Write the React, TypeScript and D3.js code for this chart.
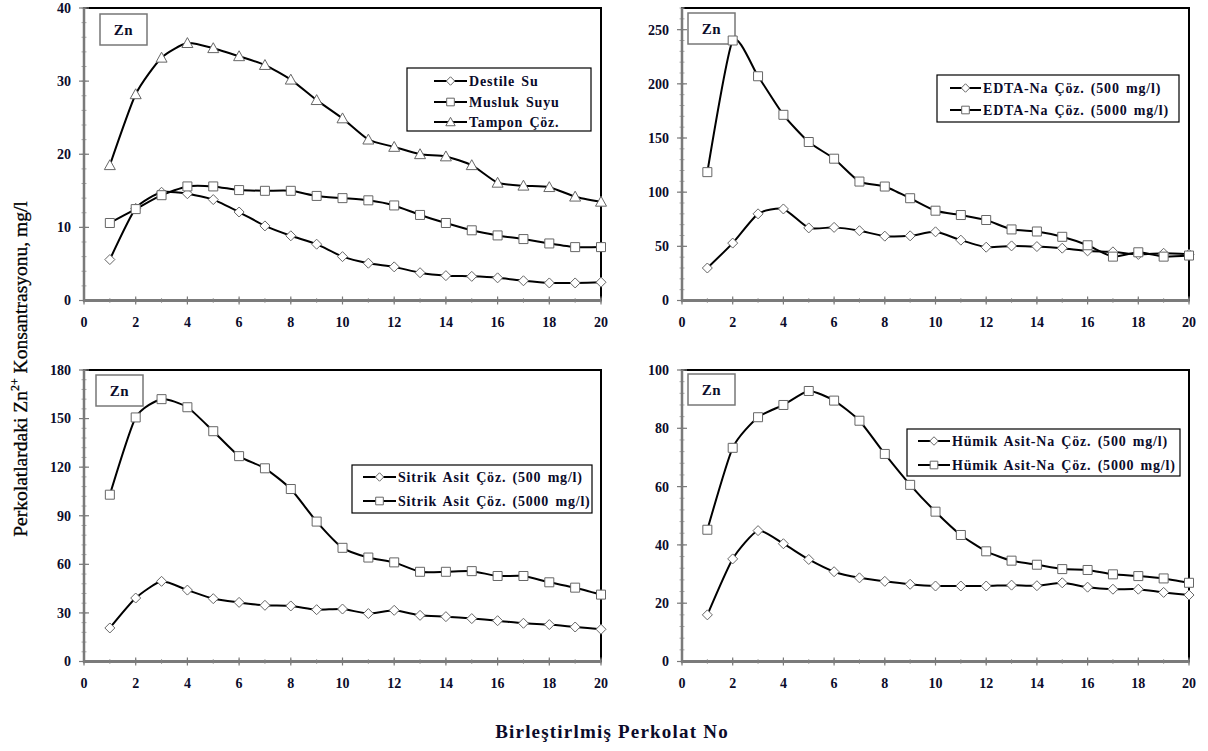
import React from "react";
import * as d3 from "d3";

// perkolat numbers (x axis)
const perkolatNo = [1, 2, 3, 4, 5, 6, 7, 8, 9, 10, 11, 12, 13, 14, 15, 16, 17, 18, 19, 20];

// panel 1: water / buffer
const destileSu = [5.6, 12.6, 14.8, 14.6, 13.8, 12.1, 10.2, 8.85, 7.7, 6.0, 5.1, 4.6, 3.8, 3.4, 3.3, 3.1, 2.7, 2.4, 2.4, 2.5];
const muslukSuyu = [10.6, 12.5, 14.4, 15.6, 15.6, 15.1, 15.0, 15.0, 14.3, 14.0, 13.7, 13.0, 11.7, 10.6, 9.6, 8.9, 8.4, 7.8, 7.3, 7.3];
const tamponCoz = [18.5, 28.2, 33.2, 35.2, 34.5, 33.4, 32.2, 30.2, 27.4, 24.9, 22.0, 21.0, 20.0, 19.7, 18.5, 16.1, 15.7, 15.5, 14.2, 13.5];

// panel 2: EDTA-Na
const edta500 = [30, 53, 80, 84.5, 67, 67.5, 64.4, 59.4, 59.7, 63.4, 55.7, 49.2, 50.4, 49.8, 48.3, 45.8, 44.9, 42.5, 43.6, 42.7];
const edta5000 = [118.5, 240, 207, 171.4, 146.3, 130.9, 109.8, 105.2, 94.4, 82.9, 78.9, 74.3, 65.6, 63.7, 58.8, 51, 40.5, 44.5, 40.5, 41.5];

// panel 3: Sitrik asit
const sitrik500 = [20.7, 39.2, 49.5, 44.1, 38.8, 36.5, 34.7, 34.3, 32.0, 32.4, 29.6, 31.6, 28.5, 27.7, 26.5, 25.2, 23.6, 22.8, 21.3, 19.9];
const sitrik5000 = [103, 150.7, 162, 157, 142.2, 126.8, 119.3, 106.5, 86.4, 70.2, 64.2, 61.2, 55.4, 55.4, 55.8, 52.8, 52.8, 48.9, 45.6, 41.3];

// panel 4: Humik asit-Na
const humik500 = [16.0, 35.2, 44.9, 40.4, 35.0, 30.8, 28.7, 27.5, 26.5, 25.9, 25.9, 25.9, 26.2, 26.0, 27.0, 25.5, 24.8, 24.8, 23.7, 22.8];
const humik5000 = [45.2, 73.3, 83.8, 88.0, 92.8, 89.5, 82.6, 71.2, 60.6, 51.4, 43.4, 37.8, 34.6, 33.2, 31.7, 31.4, 29.9, 29.3, 28.5, 27.0];

const xTicks = [0, 2, 4, 6, 8, 10, 12, 14, 16, 18, 20];

const FONT = '"Liberation Serif", "Times New Roman", serif';
const INK = "#0b0b2a";
const AXIS = "#7a7a7a";

type Marker = "diamond" | "square" | "triangle";
type Series = { name: string; values: number[]; marker: Marker };

function markerPath(kind: Marker, k = 1) {
  if (kind === "diamond") {
    const r = 5 * k;
    return `M0,${-r}L${r},0L0,${r}L${-r},0Z`;
  }
  if (kind === "square") {
    const r = 4.5 * k;
    return `M${-r},${-r}H${r}V${r}H${-r}Z`;
  }
  const r = 5.5 * k;
  return `M0,${-r}L${r},${r * 0.8}L${-r},${r * 0.8}Z`;
}

type PanelProps = {
  left: number;
  right: number;
  top: number;
  bottom: number;
  yMax: number;
  yStep: number;
  series: Series[];
  legend: { x: number; y: number; w: number; h: number; rows: number[]; lx0: number; lx1: number; tx: number };
  zn: { x: number; y: number; w: number; h: number };
};

function Panel({ left, right, top, bottom, yMax, yStep, series, legend, zn }: PanelProps) {
  const x = d3.scaleLinear().domain([0, 20]).range([left, right]);
  const y = d3.scaleLinear().domain([0, yMax]).range([bottom, top]);
  const line = d3
    .line<number>()
    .x((_, i) => x(perkolatNo[i]))
    .y((d) => y(d))
    .curve(d3.curveCardinal.tension(0.4));

  const yMajor = d3.range(0, yMax + 0.001, yStep).filter((v) => v <= yMax);
  const yMinor = d3.range(0, yMax + 0.001, yStep / 5);
  const xMinor = d3.range(0, 21, 1);

  return (
    <g>
      <rect x={left} y={top} width={right - left} height={bottom - top} fill="#fff" stroke="#000" strokeWidth={2} />
      {/* minor ticks */}
      {yMinor.map((v) => (
        <line key={"ym" + v} x1={left - 2.5} x2={left + 2.5} y1={y(v)} y2={y(v)} stroke="#aaa" strokeWidth={1} />
      ))}
      {xMinor.map((v) => (
        <line key={"xm" + v} x1={x(v)} x2={x(v)} y1={bottom - 2.5} y2={bottom + 2.5} stroke="#aaa" strokeWidth={1} />
      ))}
      {yMajor.map((v) => (
        <line key={"yM" + v} x1={left - 5} x2={left + 5} y1={y(v)} y2={y(v)} stroke={AXIS} strokeWidth={1.2} />
      ))}
      {xTicks.map((v) => (
        <line key={"xM" + v} x1={x(v)} x2={x(v)} y1={bottom - 4} y2={bottom + 4} stroke={AXIS} strokeWidth={1.2} />
      ))}
      {/* axes */}
      <line x1={left} x2={left} y1={top} y2={bottom + 1} stroke={AXIS} strokeWidth={2.5} />
      <line x1={left - 1} x2={right} y1={bottom} y2={bottom} stroke={AXIS} strokeWidth={2.5} />

      {yMajor.map((v) => (
        <text
          key={"yl" + v}
          x={left - 13}
          y={y(v)}
          dy="0.35em"
          textAnchor="end"
          fontFamily={FONT}
          fontWeight="bold"
          fontSize={14}
          fill={INK}
        >
          {v}
        </text>
      ))}
      {xTicks.map((v) => (
        <text
          key={"xl" + v}
          x={x(v)}
          y={bottom + 26}
          textAnchor="middle"
          fontFamily={FONT}
          fontWeight="bold"
          fontSize={14}
          fill={INK}
        >
          {v}
        </text>
      ))}

      {/* Zn label box sits under the data */}
      <rect x={zn.x} y={zn.y} width={zn.w} height={zn.h} fill="#fff" stroke="#777" strokeWidth={1.5} />
      <text
        x={zn.x + zn.w / 2}
        y={zn.y + zn.h / 2}
        dy="0.35em"
        textAnchor="middle"
        fontFamily={FONT}
        fontWeight="bold"
        fontSize={15}
        letterSpacing={0.5}
        fill={INK}
      >
        Zn
      </text>

      {series.map((s) => (
        <path key={s.name} d={line(s.values) || ""} fill="none" stroke="#000" strokeWidth={2} />
      ))}
      {series.map((s) =>
        s.values.map((v, i) => (
          <path
            key={s.name + i}
            d={markerPath(s.marker)}
            transform={`translate(${x(perkolatNo[i])},${y(v)})`}
            fill="#fff"
            stroke="#666"
            strokeWidth={1}
          />
        ))
      )}

      <rect x={legend.x} y={legend.y} width={legend.w} height={legend.h} fill="#fff" stroke="#000" strokeWidth={1.2} />
      {series.map((s, i) => {
        const ry = legend.rows[i];
        const mx = (legend.lx0 + legend.lx1) / 2;
        return (
          <g key={"lg" + s.name}>
            <line x1={legend.lx0} x2={legend.lx1} y1={ry} y2={ry} stroke="#000" strokeWidth={2} />
            <path d={markerPath(s.marker, 0.85)} transform={`translate(${mx},${ry})`} fill="#fff" stroke="#666" strokeWidth={1} />
            <text
              x={legend.tx}
              y={ry}
              dy="0.35em"
              fontFamily={FONT}
              fontWeight="bold"
              fontSize={14}
              letterSpacing={0.8}
              wordSpacing={2}
              fill={INK}
            >
              {s.name}
            </text>
          </g>
        );
      })}
    </g>
  );
}

export default function App() {
  return (
    <svg
      width={1208}
      height={751}
      style={{ position: "absolute", left: 0, top: 0, background: "#fff" }}
    >
      <rect width={1208} height={751} fill="#fff" />
      <Panel
        left={84}
        right={601}
        top={8}
        bottom={300.5}
        yMax={40}
        yStep={10}
        series={[
          { name: "Destile Su", values: destileSu, marker: "diamond" },
          { name: "Musluk Suyu", values: muslukSuyu, marker: "square" },
          { name: "Tampon Çöz.", values: tamponCoz, marker: "triangle" },
        ]}
        legend={{ x: 407, y: 68, w: 184, h: 63, rows: [81, 102, 122], lx0: 434, lx1: 467, tx: 469 }}
        zn={{ x: 100, y: 14, w: 47, h: 31 }}
      />
      <Panel
        left={682}
        right={1189}
        top={8}
        bottom={300.5}
        yMax={270}
        yStep={50}
        series={[
          { name: "EDTA-Na Çöz. (500 mg/l)", values: edta500, marker: "diamond" },
          { name: "EDTA-Na Çöz. (5000 mg/l)", values: edta5000, marker: "square" },
        ]}
        legend={{ x: 937, y: 75, w: 242, h: 47, rows: [88, 110], lx0: 950, lx1: 981, tx: 983 }}
        zn={{ x: 688, y: 13, w: 47, h: 31 }}
      />
      <Panel
        left={84}
        right={601}
        top={370}
        bottom={661.5}
        yMax={180}
        yStep={30}
        series={[
          { name: "Sitrik Asit Çöz. (500 mg/l)", values: sitrik500, marker: "diamond" },
          { name: "Sitrik Asit Çöz. (5000 mg/l)", values: sitrik5000, marker: "square" },
        ]}
        legend={{ x: 352, y: 465, w: 240, h: 48, rows: [477, 501], lx0: 363, lx1: 396, tx: 398 }}
        zn={{ x: 96, y: 375, w: 47, h: 31 }}
      />
      <Panel
        left={682}
        right={1189}
        top={370}
        bottom={661.5}
        yMax={100}
        yStep={20}
        series={[
          { name: "Hümik Asit-Na  Çöz. (500 mg/l)", values: humik500, marker: "diamond" },
          { name: "Hümik Asit-Na  Çöz. (5000 mg/l)", values: humik5000, marker: "square" },
        ]}
        legend={{ x: 907, y: 429, w: 273, h: 47, rows: [441, 465], lx0: 918, lx1: 950, tx: 952 }}
        zn={{ x: 688, y: 374, w: 47, h: 31 }}
      />

      <text
        transform="translate(27,369) rotate(-90)"
        textAnchor="middle"
        fontFamily={FONT}
        fontSize={19.5}
        fill="#000"
        stroke="#000"
        strokeWidth={0.3}
      >
        Perkolatlardaki Zn
        <tspan fontSize={12} dy={-8}>2+</tspan>
        <tspan dy={8}> Konsantrasyonu, mg/l</tspan>
      </text>
      <text
        x={612}
        y={738}
        textAnchor="middle"
        fontFamily={FONT}
        fontWeight="bold"
        fontSize={19}
        letterSpacing={1.2}
        fill={INK}
      >
        Birleştirlmiş Perkolat No
      </text>
    </svg>
  );
}
